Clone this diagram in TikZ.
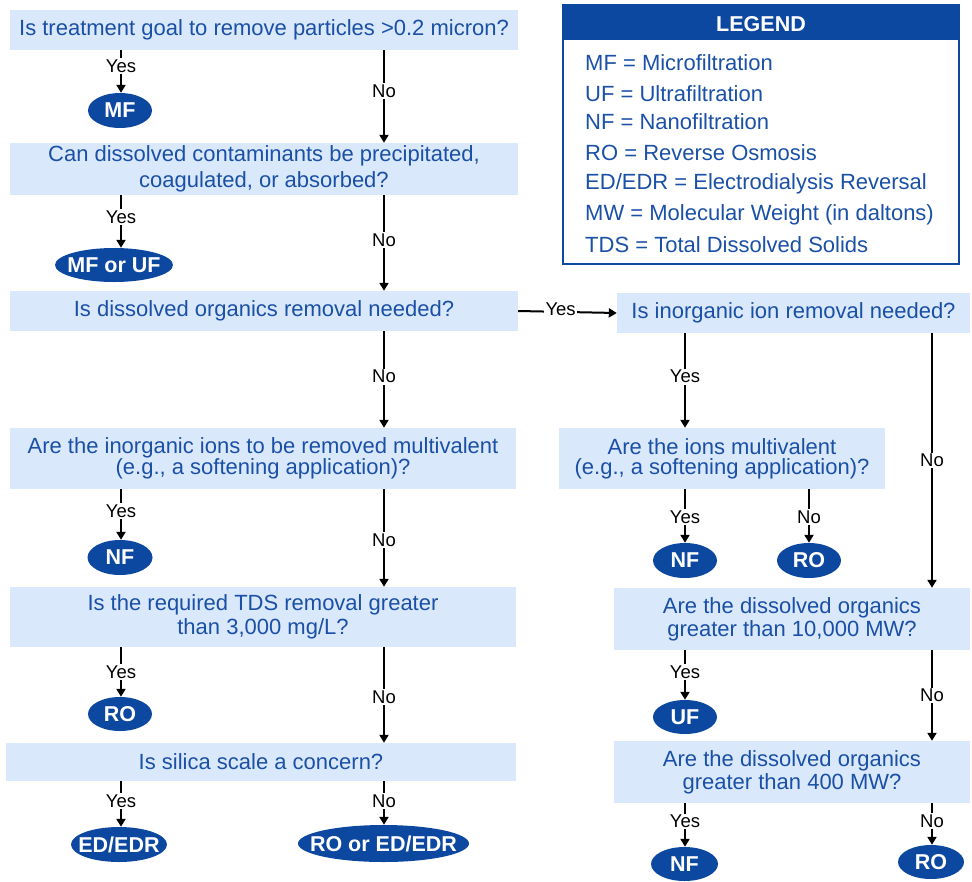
\documentclass[tikz,border=0pt]{standalone}
\usepackage{fontspec}
\setmainfont{Liberation Sans}
\usetikzlibrary{shapes.geometric,arrows.meta}
\definecolor{boxblue}{RGB}{218,232,251}
\definecolor{darkblue}{RGB}{13,72,160}
\definecolor{txtblue}{RGB}{26,80,166}
\tikzset{
  qbox/.style={fill=boxblue,text=txtblue,font=\fontsize{22}{26}\selectfont,align=center,inner sep=0pt,minimum height=40pt},
  oval/.style={ellipse,fill=darkblue,text=white,font=\bfseries\fontsize{21.5}{26}\selectfont,inner sep=0pt,minimum height=35pt},
  arr/.style={line width=2pt,-{Triangle[length=8pt,width=9pt]}},
  lbl/.style={fill=white,inner sep=1.5pt,text=black,font=\fontsize{18.5}{22}\selectfont},
  legitem/.style={anchor=west,text=txtblue,font=\fontsize{22}{26}\selectfont,inner sep=0pt}
}
\newcommand{\ov}[1]{\makebox[0pt]{#1}}
\begin{document}
\begin{tikzpicture}[x=1pt,y=-1pt]
\useasboundingbox (0,0) rectangle (972,881);
% left column boxes
\node[qbox,minimum width=508pt] (b1) at (264,30) {Is treatment goal to remove particles >0.2 micron?};
\node[qbox,minimum width=508pt,minimum height=52pt] (b2) at (264,169) {Can dissolved contaminants be precipitated,\\coagulated, or absorbed?};
\node[qbox,minimum width=508pt] (b3) at (264,311) {Is dissolved organics removal needed?};
\node[qbox,minimum width=506pt,minimum height=61pt,font=\fontsize{22}{20}\selectfont] (b4) at (263,458.5) {Are the inorganic ions to be removed multivalent\\(e.g., a softening application)?};
\node[qbox,minimum width=506pt,minimum height=60pt,font=\fontsize{22}{24}\selectfont] (b5) at (263,617) {Is the required TDS removal greater\\than 3,000 mg/L?};
\node[qbox,minimum width=510pt,minimum height=38pt] (b6) at (261,762) {Is silica scale a concern?};
% right column boxes
\node[qbox,minimum width=353pt] (b7) at (793.5,313) {Is inorganic ion removal needed?};
\node[qbox,minimum width=326pt,minimum height=61pt,font=\fontsize{22}{20}\selectfont] (b8) at (722,458.5) {Are the ions multivalent\\(e.g., a softening application)?};
\node[qbox,minimum width=356pt,minimum height=62pt,font=\fontsize{22}{23}\selectfont] (b9) at (792,619) {Are the dissolved organics\\greater than 10,000 MW?};
\node[qbox,minimum width=356pt,minimum height=62pt,font=\fontsize{22}{23}\selectfont] (b10) at (792,772) {Are the dissolved organics\\greater than 400 MW?};
% ovals
\node[oval,minimum width=64pt] (o1) at (120,110.5) {\ov{MF}};
\node[oval,minimum width=118pt,minimum height=34pt] (o2) at (114,265) {\ov{MF or UF}};
\node[oval,minimum width=65pt] (o3) at (120,557.5) {\ov{NF}};
\node[oval,minimum width=64pt,minimum height=34pt] (o4) at (120,714) {\ov{RO}};
\node[oval,minimum width=96pt] (o5) at (119,844.5) {\ov{ED/EDR}};
\node[oval,minimum width=171pt,minimum height=37pt] (o6) at (383.5,843.5) {\ov{RO or ED/EDR}};
\node[oval,minimum width=64pt] (o7) at (685,560.5) {\ov{NF}};
\node[oval,minimum width=64pt] (o8) at (809,560.5) {\ov{RO}};
\node[oval,minimum width=64pt,minimum height=34pt] (o9) at (685,717) {\ov{UF}};
\node[oval,minimum width=67pt,minimum height=34pt] (o10) at (684.5,864) {\ov{NF}};
\node[oval,minimum width=66pt,minimum height=34pt] (o11) at (931,862) {\ov{RO}};
% helper coordinates
\coordinate (c384) at (384,0);
\coordinate (c121) at (121,0);
\coordinate (c685) at (685,0);
\coordinate (c809) at (809,0);
\coordinate (c932) at (932,0);
% left connectors
\draw[arr] (b1.south -| c121) -- node[lbl,pos=0.38]{Yes} (o1.north -| c121);
\draw[arr] (b1.south -| c384) -- node[lbl,pos=0.44]{No} (b2.north -| c384);
\draw[arr] (b2.south -| c121) -- node[lbl,pos=0.42]{Yes} (o2.north -| c121);
\draw[arr] (b2.south -| c384) -- node[lbl,pos=0.47]{No} (b3.north -| c384);
\draw[arr] (b3.east) -- node[lbl,pos=0.43,yshift=3pt]{Yes} (b7.west);
\draw[arr] (b3.south -| c384) -- node[lbl,pos=0.47]{No} (b4.north -| c384);
\draw[arr] (b4.south -| c121) -- node[lbl,pos=0.43]{Yes} (o3.north -| c121);
\draw[arr] (b4.south -| c384) -- node[lbl,pos=0.52]{No} (b5.north -| c384);
\draw[arr] (b5.south -| c121) -- node[lbl,pos=0.5]{Yes} (o4.north -| c121);
\draw[arr] (b5.south -| c384) -- node[lbl,pos=0.52]{No} (b6.north -| c384);
\draw[arr] (b6.south -| c121) -- node[lbl,pos=0.43]{Yes} (o5.north -| c121);
\draw[arr] (b6.south -| c384) -- node[lbl,pos=0.45]{No} (o6.north -| c384);
% right connectors
\draw[arr] (b7.south -| c685) -- node[lbl,pos=0.46]{Yes} (b8.north -| c685);
\draw[arr] (b7.south -| c932) -- node[lbl,pos=0.5]{No} (b9.north -| c932);
\draw[arr] (b8.south -| c685) -- node[lbl,pos=0.52]{Yes} (o7.north -| c685);
\draw[arr] (b8.south -| c809) -- node[lbl,pos=0.52]{No} (o8.north -| c809);
\draw[arr] (b9.south -| c685) -- node[lbl,pos=0.44]{Yes} (o9.north -| c685);
\draw[arr] (b9.south -| c932) -- node[lbl,pos=0.5]{No} (b10.north -| c932);
\draw[arr] (b10.south -| c685) -- node[lbl,pos=0.42]{Yes} (o10.north -| c685);
\draw[arr] (b10.south -| c932) -- node[lbl,pos=0.43]{No} (o11.north -| c932);
% legend
\node[draw=darkblue,line width=2.5pt,minimum width=396pt,minimum height=259pt,inner sep=0pt] (leg) at (761,134.5) {};
\node[fill=darkblue,minimum width=396pt,minimum height=35pt,inner sep=0pt] (legh) at (761,22.5) {};
\node[text=white,font=\bfseries\fontsize{21.5}{26}\selectfont,inner sep=0pt] (leghtxt) at (761,24) {LEGEND};
\node[legitem] (l1) at (585,63) {MF = Microfiltration};
\node[legitem] (l2) at (585,94) {UF = Ultrafiltration};
\node[legitem] (l3) at (585,122) {NF = Nanofiltration};
\node[legitem] (l4) at (585,153) {RO = Reverse Osmosis};
\node[legitem] (l5) at (585,184) {ED/EDR = Electrodialysis Reversal};
\node[legitem] (l6) at (585,215) {MW = Molecular Weight (in daltons)};
\node[legitem] (l7) at (585,245) {TDS = Total Dissolved Solids};
\end{tikzpicture}
\end{document}
